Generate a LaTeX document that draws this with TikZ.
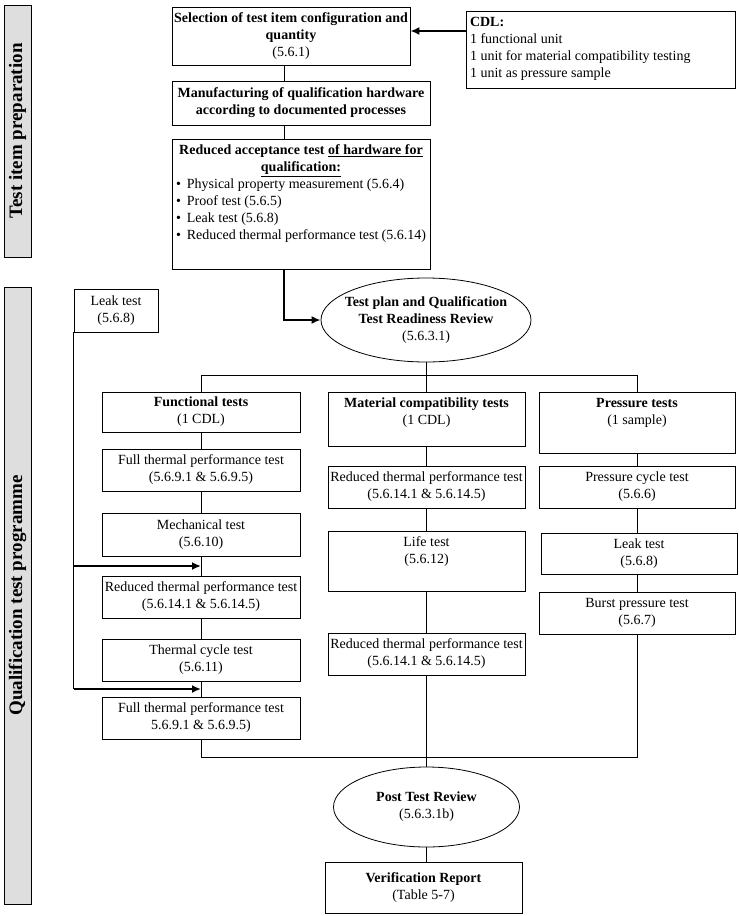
\documentclass[tikz,border=0pt]{standalone}
\usepackage{fontspec}
\setmainfont{Liberation Serif}
\usepackage{tikz}
\usetikzlibrary{shapes.geometric,arrows.meta,calc}
\newcommand{\arriba}[3]{\parbox[c][#1][t]{#2}{\centering #3}}

\begin{document}
\begin{tikzpicture}[x=1pt,y=-1pt,
		caja/.style={draw,rectangle,align=center,inner sep=0pt,line width=0.8pt,font=\fontsize{14}{17}\selectfont},
		cajaalta/.style={caja,inner xsep=4pt,inner ysep=6pt},
		elipse/.style={draw,ellipse,align=center,inner sep=0pt,line width=0.8pt,font=\fontsize{14}{17}\selectfont},
		barra/.style={draw,fill=black!13,line width=1pt,inner sep=0pt,minimum height=27pt,font=\fontsize{19}{22}\bfseries},
		arco/.style={line width=0.8pt},
		flecha/.style={-{Latex[length=9pt,width=8pt]},line width=1.8pt}]
		\useasboundingbox (0,0) rectangle (739,916);

		%Barras
		\node [barra,rotate=90,minimum width=252pt] (barra1) at (17.5,131) {Test item preparation};
		\node [barra,rotate=90,minimum width=617pt] (barra2) at (17.5,595.5) {Qualification test programme};

		%Nodos
		\node [caja,minimum width=238pt,minimum height=58pt] (sel) at (291,36) {\textbf{Selection of test item configuration and}\\ \textbf{quantity}\\ (5.6.1)};
		\node [cajaalta] (cdl) at (600.5,49.5) {\arriba{65pt}{261pt}{\raggedright\textbf{CDL:}\\ 1 functional unit\\ 1 unit for material compatibility testing\\ 1 unit as pressure sample}};
		\node [caja,minimum width=258pt,minimum height=44pt] (fab) at (301,103) {\textbf{Manufacturing of qualification hardware}\\ \textbf{according to documented processes}};
		\node [cajaalta] (red) at (301,204) {\arriba{118pt}{250pt}{\textbf{Reduced acceptance test \underline{of hardware for}}\\ \textbf{\underline{qualification:}}\par
			\raggedright
			\textbullet\hspace{6pt}Physical property measurement (5.6.4)\\
			\textbullet\hspace{6pt}Proof test (5.6.5)\\
			\textbullet\hspace{6pt}Leak test (5.6.8)\\
			\textbullet\hspace{6pt}Reduced thermal performance test (5.6.14)}};
		\node [elipse,minimum width=210pt,minimum height=84pt] (plan) at (426,320) {\makebox[100pt]{\raisebox{-4pt}{\begin{tabular}{@{}c@{}}\textbf{Test plan and Qualification}\\ \textbf{Test Readiness Review}\\ (5.6.3.1)\end{tabular}}}};
		\node [caja,minimum width=84pt,minimum height=43pt] (fugaIzq) at (116,310.5) {Leak test\\ (5.6.8)};

		\node [caja,minimum width=198pt,minimum height=40pt] (func) at (201,412) {\textbf{Functional tests}\\ (1 CDL)};
		\node [caja,minimum width=198pt,minimum height=42pt] (termico1) at (201,470) {Full thermal performance test\\ (5.6.9.1 \& 5.6.9.5)};
		\node [caja,minimum width=198pt,minimum height=43pt] (mecanico) at (201,534.5) {Mechanical test\\ (5.6.10)};
		\node [caja,minimum width=198pt,minimum height=42pt] (reducido1) at (201,597) {Reduced thermal performance test\\ (5.6.14.1 \& 5.6.14.5)};
		\node [caja,minimum width=198pt,minimum height=42pt] (ciclo) at (201,660) {Thermal cycle test\\ (5.6.11)};
		\node [caja,minimum width=198pt,minimum height=42pt] (termico2) at (201,718) {Full thermal performance test\\ 5.6.9.1 \& 5.6.9.5)};

		\node [cajaalta] (mat) at (426.5,419) {\arriba{42pt}{189pt}{\textbf{Material compatibility tests}\\ (1 CDL)}};
		\node [caja,minimum width=197pt,minimum height=42pt] (reducido2) at (426.5,487) {Reduced thermal performance test\\ (5.6.14.1 \& 5.6.14.5)};
		\node [cajaalta] (vida) at (426.5,561) {\arriba{48pt}{189pt}{Life test\\ (5.6.12)}};
		\node [caja,minimum width=197pt,minimum height=42pt] (reducido3) at (426.5,654) {Reduced thermal performance test\\ (5.6.14.1 \& 5.6.14.5)};

		\node [cajaalta] (pres) at (637,422.5) {\arriba{49pt}{188pt}{\textbf{Pressure tests}\\ (1 sample)}};
		\node [caja,minimum width=196pt,minimum height=42pt] (presion) at (637,487) {Pressure cycle test\\ (5.6.6)};
		\node [caja,minimum width=196pt,minimum height=41pt] (fugaDer) at (639,553.5) {Leak test\\ (5.6.8)};
		\node [caja,minimum width=196pt,minimum height=42pt] (rotura) at (637,613) {Burst pressure test\\ (5.6.7)};

		\node [elipse,minimum width=186pt,minimum height=80pt] (post) at (426.5,807) {\textbf{Post Test Review}\\ (5.6.3.1b)};
		\node [caja,minimum width=197pt,minimum height=51pt] (informe) at (423.5,887.5) {\textbf{Verification Report}\\ (Table 5-7)};

		%Arcos
		\coordinate (eje) at (284,0);
		\draw [flecha] ([yshift=5pt]sel.east -| cdl.west) -- ([yshift=5pt]sel.east);
		\draw [arco] (sel.south -| eje) -- (fab.north -| eje);
		\draw [arco] (fab.south -| eje) -- (red.north -| eje);
		\draw [flecha] (red.south -| eje) |- (plan.west);

		\draw [arco] (plan.south) -- (plan.south |- mat.north);
		\draw [arco] (func.north) -- ++(0,-16) -| (pres.north);

		\draw [arco] (func)--(termico1);
		\draw [arco] (termico1)--(mecanico);
		\draw [arco] (mecanico)--(reducido1);
		\draw [arco] (reducido1)--(ciclo);
		\draw [arco] (ciclo)--(termico2);

		\draw [arco] (mat)--(reducido2);
		\draw [arco] (reducido2)--(vida);
		\draw [arco] (vida)--(reducido3);

		\draw [arco] (pres)--(presion);
		\draw [arco] (presion.south) -- (presion.south |- fugaDer.north);
		\draw [arco] (rotura.north) -- (rotura.north |- fugaDer.south);

		\draw [arco] (termico2.south) -- ++(0,18) -| (rotura.south);
		\draw [arco] (reducido3)--(post);
		\draw [arco] (post.south) -- (post.south |- informe.north);

		\coordinate (m1) at ($(mecanico.south)!0.5!(reducido1.north)$);
		\coordinate (m2) at ($(ciclo.south)!0.5!(termico2.north)$);
		\draw [arco] (fugaIzq.south west) -- (fugaIzq.south west |- m2);
		\draw [flecha] (fugaIzq.south west |- m1) -- (m1);
		\draw [flecha] (fugaIzq.south west |- m2) -- (m2);
\end{tikzpicture}
\end{document}
